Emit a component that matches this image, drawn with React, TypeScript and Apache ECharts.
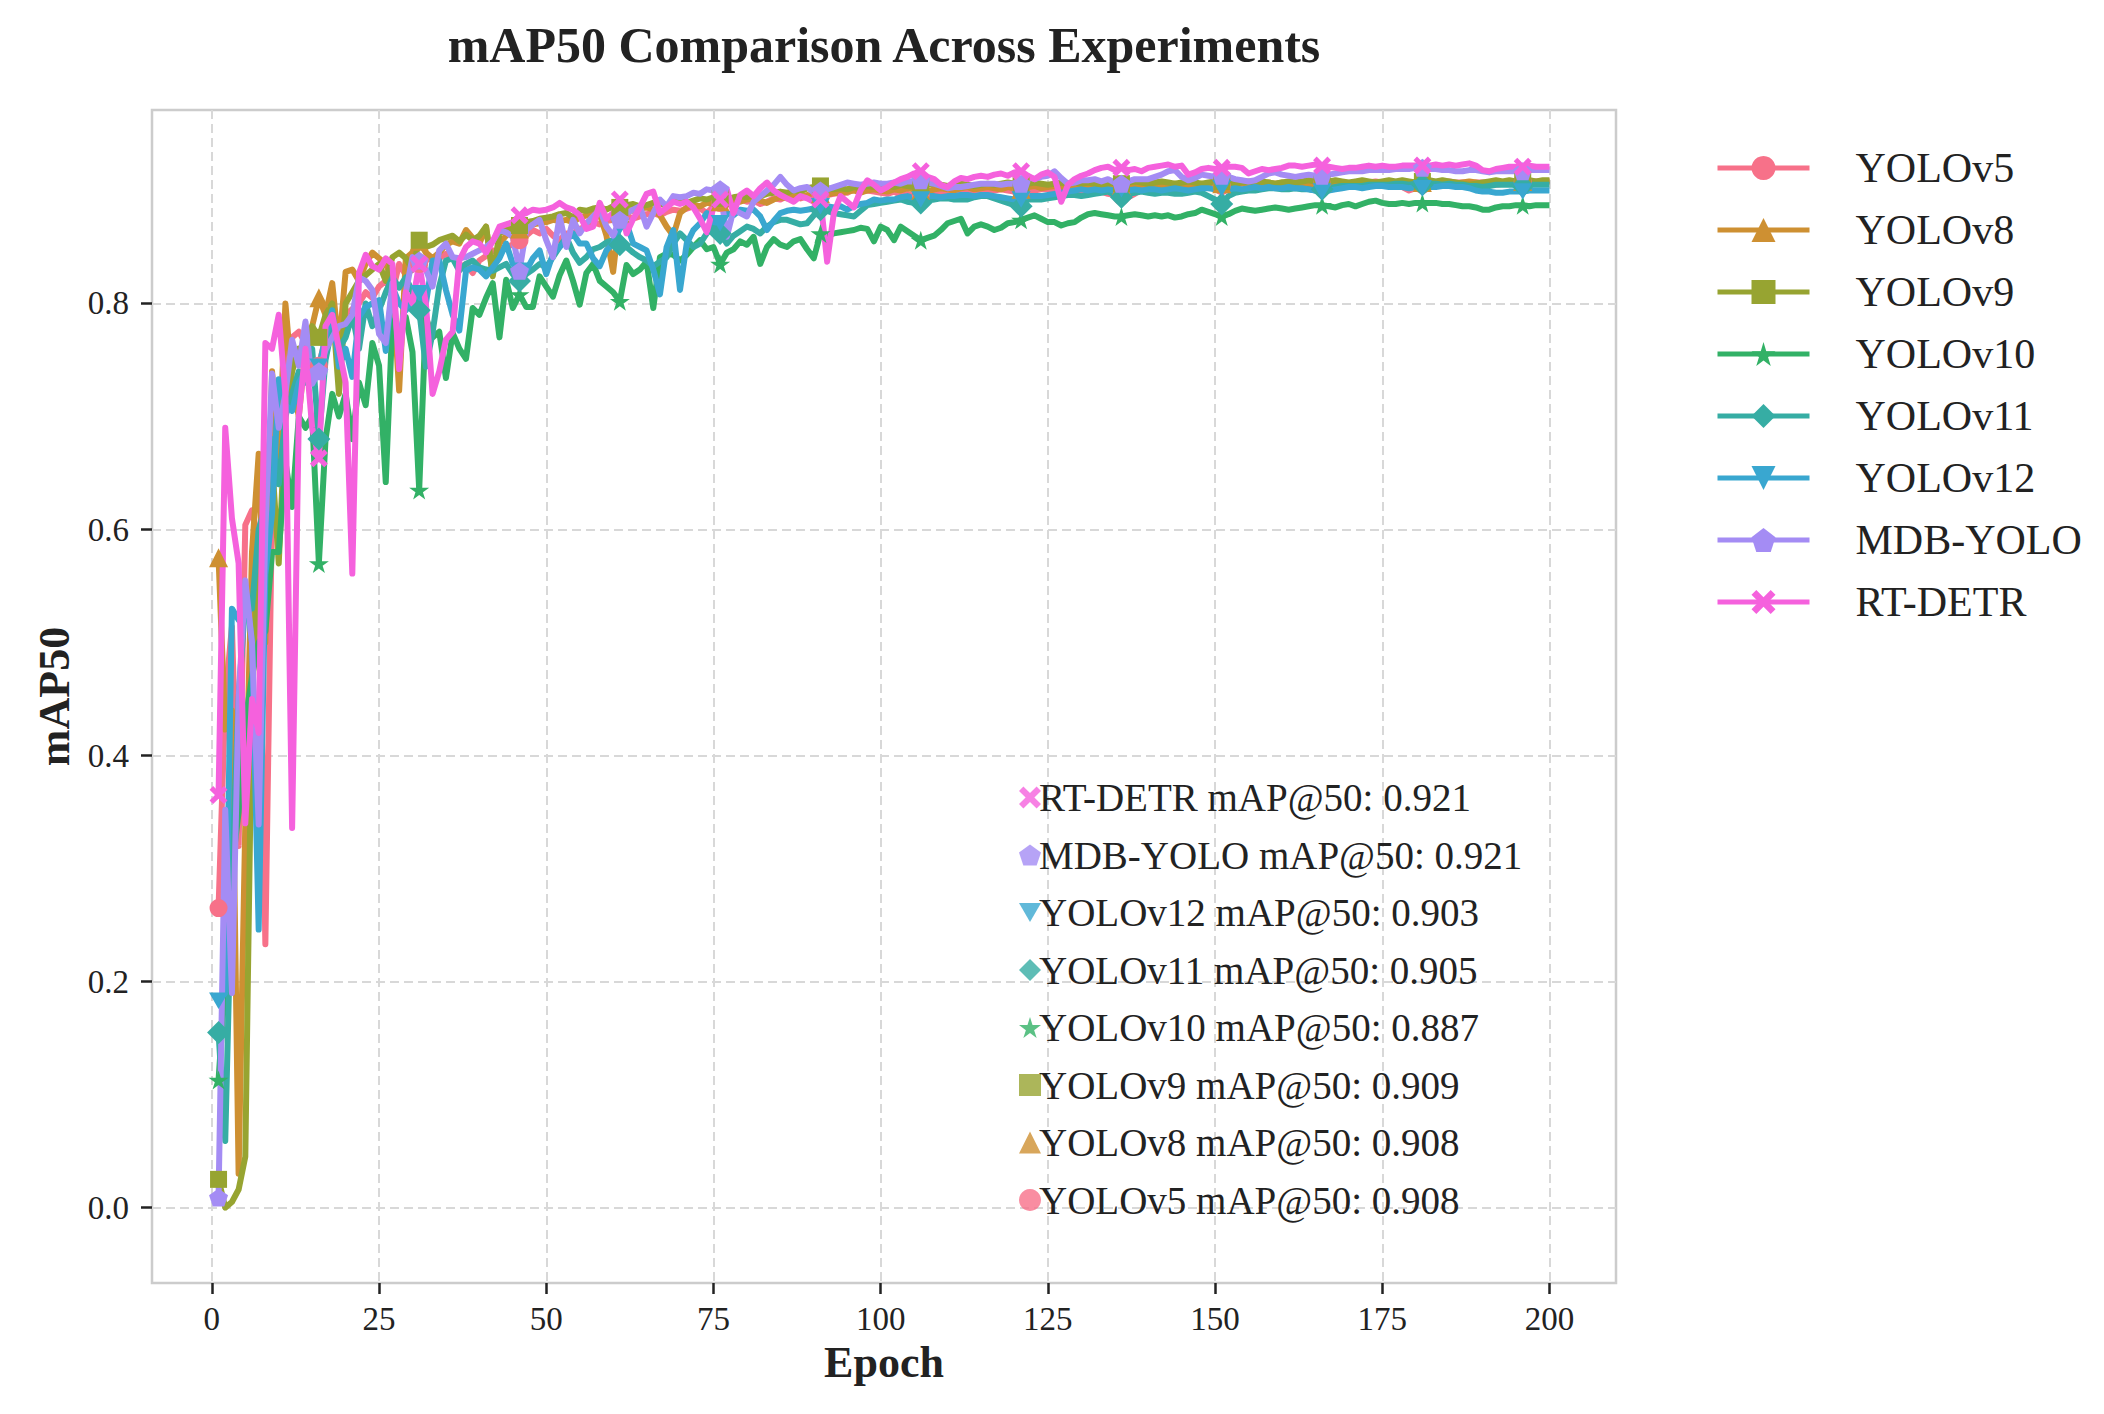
import { useEffect, useRef } from 'react';
import * as echarts from 'echarts';

const FONT = '"Liberation Serif", "Times New Roman", serif';
const INK = '#222222';

const modelNames = ['YOLOv5', 'YOLOv8', 'YOLOv9', 'YOLOv10', 'YOLOv11', 'YOLOv12', 'MDB-YOLO', 'RT-DETR'];
const modelColors = ['#f77189', '#ce9032', '#97a431', '#32b166', '#36ada4', '#39a7d0', '#a48cf4', '#f561dd'];
const finalScores = [0.908, 0.908, 0.909, 0.887, 0.905, 0.903, 0.921, 0.921];
const xTicks = [0, 25, 50, 75, 100, 125, 150, 175, 200];
const yTicks = [0, 0.2, 0.4, 0.6, 0.8];

// mAP50 per epoch (1..200)
const yolov5 = [
  0.265, 0.45, 0.514, 0.32, 0.604, 0.617, 0.59, 0.233, 0.62, 0.714,
  0.74, 0.77, 0.775, 0.765, 0.75, 0.745, 0.77, 0.785, 0.78, 0.79,
  0.795, 0.8, 0.81, 0.805, 0.815, 0.82, 0.81, 0.835, 0.825, 0.83,
  0.835, 0.838, 0.841, 0.84, 0.844, 0.84, 0.832, 0.835, 0.827, 0.838,
  0.842, 0.847, 0.845, 0.85, 0.852, 0.856, 0.86, 0.865, 0.862, 0.866,
  0.86, 0.856, 0.862, 0.862, 0.866, 0.868, 0.872, 0.87, 0.873, 0.874,
  0.876, 0.878, 0.875, 0.877, 0.879, 0.88, 0.878, 0.881, 0.883, 0.882,
  0.884, 0.886, 0.884, 0.88, 0.886, 0.889, 0.887, 0.89, 0.892, 0.89,
  0.891, 0.888, 0.89, 0.893, 0.892, 0.895, 0.894, 0.893, 0.895, 0.894,
  0.895, 0.896, 0.897, 0.899, 0.898, 0.901, 0.899, 0.9, 0.899, 0.898,
  0.897, 0.899, 0.896, 0.897, 0.895, 0.896, 0.898, 0.899, 0.897, 0.898,
  0.899, 0.898, 0.9, 0.899, 0.898, 0.899, 0.9, 0.901, 0.9, 0.899,
  0.899, 0.899, 0.9, 0.901, 0.901, 0.9, 0.899, 0.9, 0.898, 0.899,
  0.9, 0.901, 0.899, 0.897, 0.896, 0.895, 0.894, 0.897, 0.901, 0.902,
  0.903, 0.904, 0.903, 0.902, 0.903, 0.904, 0.903, 0.902, 0.903, 0.904,
  0.904, 0.903, 0.905, 0.904, 0.905, 0.906, 0.905, 0.904, 0.905, 0.906,
  0.905, 0.906, 0.907, 0.906, 0.905, 0.906, 0.907, 0.906, 0.905, 0.906,
  0.907, 0.906, 0.907, 0.908, 0.907, 0.906, 0.905, 0.903, 0.9, 0.902,
  0.905, 0.906, 0.907, 0.907, 0.908, 0.907, 0.907, 0.906, 0.907, 0.907,
  0.906, 0.905, 0.906, 0.907, 0.907, 0.908, 0.907, 0.908, 0.908, 0.908,
];

const yolov8 = [
  0.575, 0.423, 0.44, 0.03, 0.34, 0.58, 0.667, 0.5, 0.74, 0.66,
  0.8, 0.73, 0.7, 0.76, 0.78, 0.805, 0.79, 0.818, 0.76, 0.828,
  0.83, 0.82, 0.835, 0.845, 0.84, 0.835, 0.82, 0.723, 0.84, 0.845,
  0.855, 0.845, 0.84, 0.845, 0.852, 0.855, 0.853, 0.865, 0.858, 0.853,
  0.868, 0.826, 0.853, 0.86, 0.865, 0.866, 0.868, 0.87, 0.871, 0.872,
  0.874, 0.873, 0.874, 0.872, 0.876, 0.878, 0.88, 0.879, 0.86, 0.828,
  0.88, 0.883, 0.882, 0.884, 0.885, 0.883, 0.878, 0.868, 0.86, 0.88,
  0.885, 0.887, 0.886, 0.889, 0.888, 0.89, 0.888, 0.891, 0.89, 0.892,
  0.893, 0.891, 0.889, 0.892, 0.894, 0.893, 0.895, 0.894, 0.896, 0.895,
  0.897, 0.896, 0.898, 0.897, 0.899, 0.9, 0.898, 0.9, 0.901, 0.9,
  0.899, 0.901, 0.9, 0.902, 0.901, 0.9, 0.899, 0.901, 0.902, 0.901,
  0.9, 0.902, 0.903, 0.901, 0.902, 0.903, 0.902, 0.901, 0.903, 0.902,
  0.901, 0.903, 0.904, 0.902, 0.903, 0.904, 0.903, 0.902, 0.904, 0.903,
  0.904, 0.903, 0.905, 0.904, 0.903, 0.904, 0.905, 0.904, 0.905, 0.906,
  0.905, 0.904, 0.905, 0.906, 0.905, 0.904, 0.905, 0.906, 0.905, 0.906,
  0.906, 0.905, 0.906, 0.907, 0.906, 0.905, 0.906, 0.907, 0.906, 0.907,
  0.906, 0.907, 0.906, 0.905, 0.906, 0.907, 0.906, 0.905, 0.904, 0.905,
  0.906, 0.907, 0.906, 0.907, 0.906, 0.905, 0.906, 0.907, 0.906, 0.907,
  0.907, 0.906, 0.907, 0.908, 0.907, 0.906, 0.907, 0.908, 0.907, 0.906,
  0.907, 0.906, 0.907, 0.908, 0.907, 0.908, 0.908, 0.907, 0.908, 0.908,
];

const yolov9 = [
  0.025, 0.0, 0.005, 0.016, 0.045, 0.45, 0.58, 0.62, 0.66, 0.57,
  0.7, 0.74, 0.76, 0.75, 0.78, 0.77, 0.79, 0.8, 0.72, 0.8,
  0.81, 0.82, 0.825, 0.83, 0.835, 0.82, 0.841, 0.845, 0.84, 0.83,
  0.856, 0.85, 0.852, 0.856, 0.858, 0.86, 0.855, 0.861, 0.856, 0.86,
  0.868, 0.824, 0.862, 0.865, 0.867, 0.869, 0.872, 0.873, 0.875, 0.876,
  0.877, 0.879, 0.88, 0.876, 0.883, 0.882, 0.884, 0.885, 0.883, 0.886,
  0.885, 0.887, 0.888, 0.886, 0.887, 0.889, 0.888, 0.887, 0.89, 0.892,
  0.889, 0.891, 0.893, 0.892, 0.894, 0.893, 0.892, 0.894, 0.895, 0.894,
  0.896, 0.895, 0.897, 0.898, 0.899, 0.898, 0.9, 0.899, 0.902, 0.903,
  0.904, 0.902, 0.901, 0.902, 0.901, 0.903, 0.902, 0.904, 0.903, 0.905,
  0.904, 0.903, 0.905, 0.904, 0.903, 0.904, 0.905, 0.906, 0.905, 0.904,
  0.905, 0.906, 0.905, 0.904, 0.905, 0.906, 0.905, 0.906, 0.907, 0.906,
  0.905, 0.906, 0.907, 0.906, 0.905, 0.906, 0.907, 0.906, 0.907, 0.906,
  0.907, 0.906, 0.905, 0.906, 0.907, 0.906, 0.907, 0.908, 0.907, 0.906,
  0.907, 0.908, 0.907, 0.906, 0.907, 0.908, 0.907, 0.906, 0.907, 0.908,
  0.908, 0.907, 0.906, 0.907, 0.908, 0.907, 0.908, 0.907, 0.906, 0.907,
  0.908, 0.907, 0.908, 0.909, 0.908, 0.907, 0.908, 0.909, 0.908, 0.907,
  0.908, 0.909, 0.908, 0.907, 0.908, 0.909, 0.908, 0.909, 0.908, 0.907,
  0.908, 0.909, 0.908, 0.909, 0.908, 0.907, 0.906, 0.905, 0.906, 0.907,
  0.908, 0.909, 0.908, 0.909, 0.908, 0.909, 0.909, 0.908, 0.909, 0.909,
];

const yolov10 = [
  0.113, 0.2, 0.3, 0.35, 0.43, 0.47, 0.5, 0.51, 0.58, 0.58,
  0.66, 0.62, 0.7, 0.69, 0.7, 0.57, 0.68, 0.72, 0.7, 0.72,
  0.68, 0.73, 0.71, 0.765, 0.745, 0.642, 0.785, 0.774, 0.788, 0.757,
  0.635, 0.788, 0.77, 0.775, 0.734, 0.774, 0.76, 0.751, 0.796, 0.79,
  0.805, 0.818, 0.77, 0.821, 0.796, 0.808, 0.797, 0.797, 0.824, 0.815,
  0.806, 0.825, 0.838, 0.82, 0.799, 0.827, 0.835, 0.82, 0.815, 0.81,
  0.802, 0.834, 0.826, 0.83, 0.837, 0.796, 0.841, 0.844, 0.843, 0.838,
  0.843, 0.85, 0.856, 0.848, 0.85, 0.835, 0.845, 0.848, 0.855, 0.852,
  0.859, 0.835, 0.85, 0.857, 0.852, 0.85, 0.855, 0.857, 0.848, 0.84,
  0.862, 0.86, 0.862, 0.863, 0.864, 0.865, 0.867, 0.866, 0.855, 0.868,
  0.865, 0.856, 0.868, 0.864, 0.86, 0.856, 0.858, 0.86, 0.865, 0.871,
  0.873, 0.875, 0.862, 0.868, 0.87, 0.868, 0.865, 0.867, 0.871, 0.872,
  0.874, 0.876, 0.878, 0.875, 0.872, 0.872, 0.869, 0.871, 0.872, 0.876,
  0.879, 0.88, 0.879, 0.878, 0.877, 0.877, 0.878, 0.879, 0.878, 0.877,
  0.878, 0.877, 0.878, 0.876, 0.877, 0.879, 0.88, 0.883, 0.881, 0.879,
  0.877, 0.879, 0.882, 0.884, 0.883, 0.882, 0.883, 0.884, 0.885, 0.884,
  0.883, 0.884, 0.885, 0.886, 0.887, 0.887, 0.886, 0.885, 0.887, 0.888,
  0.886, 0.888, 0.89, 0.891, 0.889, 0.888, 0.888, 0.889, 0.888, 0.889,
  0.889, 0.889, 0.889, 0.888, 0.888, 0.887, 0.886, 0.886, 0.885, 0.883,
  0.883, 0.885, 0.886, 0.886, 0.887, 0.887, 0.886, 0.887, 0.887, 0.887,
];

const yolov11 = [
  0.155, 0.059, 0.3, 0.45, 0.538, 0.53, 0.6, 0.62, 0.68, 0.64,
  0.7, 0.72, 0.74, 0.73, 0.76, 0.68, 0.75, 0.78, 0.76, 0.77,
  0.79, 0.76, 0.8, 0.78, 0.794, 0.81, 0.823, 0.814, 0.823, 0.81,
  0.794, 0.744, 0.774, 0.815, 0.838, 0.84, 0.829, 0.835, 0.838, 0.832,
  0.83, 0.829, 0.832, 0.835, 0.826, 0.82, 0.826, 0.83, 0.835, 0.832,
  0.841, 0.85, 0.859, 0.845, 0.836, 0.841, 0.848, 0.85, 0.854, 0.856,
  0.852, 0.85, 0.845, 0.841, 0.838, 0.833, 0.837, 0.841, 0.853, 0.862,
  0.856, 0.85, 0.853, 0.862, 0.87, 0.862, 0.853, 0.86, 0.864, 0.868,
  0.866, 0.862, 0.868, 0.872, 0.874, 0.874, 0.872, 0.87, 0.871, 0.878,
  0.883, 0.882, 0.88, 0.879, 0.878, 0.877, 0.882, 0.887, 0.888, 0.889,
  0.89, 0.891, 0.892, 0.89, 0.889, 0.889, 0.891, 0.892, 0.893, 0.893,
  0.892, 0.892, 0.892, 0.894, 0.895, 0.895, 0.893, 0.891, 0.889, 0.887,
  0.886, 0.892, 0.892, 0.892, 0.893, 0.894, 0.895, 0.896, 0.896, 0.895,
  0.896, 0.897, 0.898, 0.899, 0.896, 0.894, 0.897, 0.898, 0.899, 0.898,
  0.897, 0.898, 0.898, 0.897, 0.897, 0.898, 0.899, 0.898, 0.895, 0.892,
  0.888, 0.895, 0.898, 0.899, 0.9, 0.9, 0.901, 0.902, 0.902, 0.901,
  0.901, 0.902, 0.901, 0.901, 0.9, 0.901, 0.902, 0.903, 0.904, 0.904,
  0.904, 0.904, 0.905, 0.905, 0.905, 0.905, 0.906, 0.906, 0.905, 0.906,
  0.905, 0.906, 0.906, 0.905, 0.906, 0.905, 0.905, 0.904, 0.904, 0.903,
  0.904, 0.905, 0.905, 0.905, 0.905, 0.904, 0.905, 0.905, 0.905, 0.905,
];

const yolov12 = [
  0.183, 0.19, 0.53, 0.52, 0.55, 0.5, 0.246, 0.56, 0.614, 0.733,
  0.71, 0.705, 0.73, 0.74, 0.747, 0.744, 0.77, 0.794, 0.744, 0.76,
  0.735, 0.788, 0.797, 0.8, 0.803, 0.758, 0.815, 0.8, 0.794, 0.803,
  0.809, 0.8, 0.838, 0.838, 0.812, 0.79, 0.776, 0.829, 0.832, 0.83,
  0.824, 0.832, 0.84, 0.853, 0.835, 0.829, 0.829, 0.84, 0.847, 0.826,
  0.844, 0.85, 0.856, 0.862, 0.853, 0.853, 0.84, 0.833, 0.847, 0.853,
  0.868, 0.871, 0.853, 0.85, 0.847, 0.83, 0.808, 0.85, 0.865, 0.812,
  0.853, 0.865, 0.871, 0.88, 0.872, 0.871, 0.88, 0.878, 0.883, 0.882,
  0.883, 0.877, 0.865, 0.873, 0.88, 0.882, 0.883, 0.882, 0.883, 0.884,
  0.886, 0.886, 0.885, 0.886, 0.883, 0.886, 0.888, 0.889, 0.892, 0.891,
  0.892, 0.892, 0.894, 0.895, 0.893, 0.892, 0.895, 0.895, 0.894, 0.895,
  0.895, 0.896, 0.896, 0.895, 0.896, 0.896, 0.895, 0.894, 0.893, 0.892,
  0.892, 0.895, 0.895, 0.895, 0.896, 0.897, 0.898, 0.899, 0.9, 0.901,
  0.9, 0.901, 0.9, 0.901, 0.9, 0.901, 0.9, 0.901, 0.9, 0.901,
  0.901, 0.9, 0.901, 0.902, 0.901, 0.9, 0.901, 0.902, 0.902, 0.901,
  0.902, 0.901, 0.902, 0.901, 0.902, 0.903, 0.902, 0.903, 0.902, 0.902,
  0.903, 0.902, 0.902, 0.901, 0.9, 0.899, 0.9, 0.901, 0.902, 0.903,
  0.903, 0.902, 0.903, 0.904, 0.904, 0.903, 0.903, 0.903, 0.902, 0.903,
  0.902, 0.903, 0.903, 0.904, 0.904, 0.903, 0.903, 0.902, 0.9, 0.899,
  0.899, 0.898, 0.898, 0.899, 0.899, 0.899, 0.9, 0.9, 0.9, 0.9,
];

const mdbYolo = [
  0.009, 0.352, 0.19, 0.45, 0.555, 0.5, 0.339, 0.6, 0.738, 0.69,
  0.72, 0.768, 0.745, 0.784, 0.729, 0.74, 0.759, 0.77, 0.78, 0.782,
  0.79, 0.823, 0.82, 0.812, 0.773, 0.765, 0.818, 0.756, 0.81, 0.841,
  0.838, 0.83, 0.815, 0.847, 0.853, 0.841, 0.84, 0.841, 0.844, 0.847,
  0.85, 0.855, 0.865, 0.863, 0.859, 0.829, 0.865, 0.87, 0.874, 0.856,
  0.841, 0.877, 0.85, 0.874, 0.862, 0.871, 0.877, 0.883, 0.868, 0.86,
  0.874, 0.88, 0.883, 0.886, 0.868, 0.88, 0.892, 0.886, 0.895, 0.894,
  0.895, 0.898, 0.897, 0.901, 0.9, 0.901, 0.859, 0.883, 0.88, 0.877,
  0.89, 0.895, 0.9, 0.905, 0.912, 0.905, 0.9, 0.902, 0.903, 0.898,
  0.9, 0.901, 0.903, 0.905, 0.907, 0.906, 0.905, 0.906, 0.907, 0.906,
  0.906, 0.907, 0.906, 0.908, 0.908, 0.909, 0.907, 0.906, 0.904, 0.902,
  0.903, 0.903, 0.904, 0.905, 0.906, 0.906, 0.906, 0.905, 0.906, 0.906,
  0.906, 0.912, 0.91, 0.912, 0.913, 0.917, 0.911, 0.906, 0.907, 0.909,
  0.909, 0.91, 0.908, 0.91, 0.907, 0.906, 0.908, 0.91, 0.91, 0.91,
  0.912, 0.914, 0.917, 0.918, 0.912, 0.909, 0.911, 0.914, 0.913, 0.912,
  0.913, 0.912, 0.91, 0.909, 0.908, 0.909, 0.912, 0.915, 0.916, 0.914,
  0.913, 0.912, 0.913, 0.914, 0.913, 0.913, 0.914, 0.915, 0.916, 0.917,
  0.917, 0.917, 0.918, 0.918, 0.918, 0.918, 0.919, 0.919, 0.919, 0.92,
  0.92, 0.919, 0.919, 0.918, 0.918, 0.917, 0.917, 0.918, 0.918, 0.917,
  0.916, 0.917, 0.917, 0.917, 0.917, 0.917, 0.918, 0.918, 0.918, 0.918,
];

const rtDetr = [
  0.365, 0.69, 0.61, 0.57, 0.34, 0.45, 0.42, 0.765, 0.76, 0.79,
  0.72, 0.336, 0.7, 0.76, 0.69, 0.663, 0.78, 0.79, 0.76, 0.73,
  0.561, 0.827, 0.843, 0.833, 0.83, 0.84, 0.835, 0.742, 0.81, 0.8,
  0.835, 0.8, 0.72, 0.74, 0.768, 0.775, 0.838, 0.85, 0.855, 0.853,
  0.845, 0.855, 0.868, 0.87, 0.872, 0.878, 0.88, 0.883, 0.882, 0.883,
  0.885, 0.889, 0.885, 0.883, 0.878, 0.866, 0.868, 0.889, 0.875, 0.88,
  0.892, 0.862, 0.875, 0.885, 0.897, 0.899, 0.88, 0.885, 0.89, 0.888,
  0.89, 0.885, 0.875, 0.863, 0.885, 0.892, 0.901, 0.88, 0.896, 0.9,
  0.895, 0.902, 0.907, 0.9, 0.896, 0.893, 0.89, 0.895, 0.893, 0.89,
  0.892, 0.837, 0.88, 0.895, 0.89, 0.885, 0.9, 0.909, 0.905, 0.9,
  0.903, 0.907, 0.91, 0.912, 0.915, 0.917, 0.912, 0.91, 0.905, 0.903,
  0.908, 0.911, 0.91, 0.912, 0.913, 0.912, 0.914, 0.915, 0.913, 0.916,
  0.917, 0.913, 0.91, 0.914, 0.916, 0.912, 0.89, 0.905, 0.91, 0.913,
  0.915, 0.918, 0.92, 0.921, 0.918, 0.92, 0.918, 0.919, 0.917, 0.92,
  0.921, 0.922, 0.923, 0.921, 0.922, 0.914, 0.916, 0.919, 0.92, 0.919,
  0.92, 0.921, 0.921, 0.92, 0.915, 0.917, 0.919, 0.918, 0.919, 0.92,
  0.922, 0.922, 0.921, 0.922, 0.923, 0.922, 0.921, 0.92, 0.919, 0.92,
  0.92, 0.921, 0.922, 0.921, 0.922, 0.921, 0.921, 0.922, 0.922, 0.922,
  0.922, 0.922, 0.923, 0.922, 0.923, 0.922, 0.923, 0.924, 0.922, 0.918,
  0.917, 0.919, 0.92, 0.921, 0.921, 0.921, 0.922, 0.921, 0.921, 0.921,
];

const seriesValues = [yolov5, yolov8, yolov9, yolov10, yolov11, yolov12, mdbYolo, rtDetr];

const STAR = 'path://M50,0 L61,35 L98,35 L68,57 L79,91 L50,70 L21,91 L32,57 L2,35 L39,35 Z';
const PENTAGON = 'path://M50,0 L98,35 L79,91 L21,91 L2,35 Z';
const TRI_DOWN = 'path://M0,0 L100,0 L50,87 Z';
const XMARK = 'path://M20,0 L50,30 L80,0 L100,20 L70,50 L100,80 L80,100 L50,70 L20,100 L0,80 L30,50 L0,20 Z';
const markerSymbols = ['circle', 'triangle', 'rect', STAR, 'diamond', TRI_DOWN, PENTAGON, XMARK];
const markerSizes = [18, 19, 17, 20, 23, 19, 19, 18];

const MARK_EVERY = 15;

export default function App() {
  const chartRef = useRef<HTMLDivElement>(null);

  useEffect(() => {
    if (!chartRef.current) return;
    document.body.style.margin = '0';

    const chart = echarts.init(chartRef.current, null, { renderer: 'svg' });

    const scoreLabels = modelNames.map((n, i) => `${n} mAP@50: ${finalScores[i].toFixed(3)}`);

    const lineSeries = modelNames.map((name, s) => ({
      name,
      type: 'line',
      data: seriesValues[s].map((v, i) =>
        i % MARK_EVERY === 0 ? [i + 1, v] : { value: [i + 1, v], symbol: 'none' },
      ),
      symbol: markerSymbols[s],
      symbolSize: markerSizes[s],
      symbolKeepAspect: true,
      showSymbol: true,
      showAllSymbol: true,
      lineStyle: { width: 6, color: modelColors[s], join: 'round' },
      itemStyle: { color: modelColors[s] },
      emphasis: { disabled: true },
    }));

    // empty series only used for the score list in the lower right
    const scoreSeries = modelNames.map((_, s) => ({
      name: scoreLabels[s],
      type: 'scatter',
      data: [],
      symbol: markerSymbols[s],
      symbolKeepAspect: true,
      itemStyle: { color: modelColors[s] },
    }));

    const tickLabel = { fontFamily: FONT, fontSize: 33, color: INK };
    const axisName = { fontFamily: FONT, fontSize: 44, fontWeight: 'bold', color: INK, verticalAlign: 'middle' };
    const gridLine = { show: true, lineStyle: { color: '#d8d8d8', width: 2, type: [9, 5] } };

    const option: any = {
      animation: false,
      backgroundColor: '#ffffff',
      graphic: [
        {
          type: 'text',
          x: 884,
          y: 45,
          style: {
            text: 'mAP50 Comparison Across Experiments',
            fontFamily: FONT,
            fontSize: 50,
            fontWeight: 'bold',
            fill: INK,
            textAlign: 'center',
            textVerticalAlign: 'middle',
          },
        },
      ],
      grid: {
        left: 152,
        top: 110,
        width: 1464,
        height: 1173,
        show: true,
        borderColor: '#cccccc',
        borderWidth: 2.5,
        containLabel: false,
        outerBoundsMode: 'none',
      },
      xAxis: {
        type: 'value',
        min: -8.95,
        max: 209.95,
        axisLine: { show: false, onZero: false },
        axisTick: { show: true, customValues: xTicks, length: 11, lineStyle: { color: INK, width: 2.5 } },
        axisLabel: { customValues: xTicks, margin: 19, ...tickLabel },
        splitLine: gridLine,
        name: 'Epoch',
        nameLocation: 'middle',
        nameGap: 79,
        nameTextStyle: axisName,
      },
      yAxis: {
        type: 'value',
        min: -0.0667,
        max: 0.9712,
        axisLine: { show: false, onZero: false },
        axisTick: { show: true, customValues: yTicks, length: 11, lineStyle: { color: INK, width: 2.5 } },
        axisLabel: { customValues: yTicks, margin: 23, formatter: (v: number) => v.toFixed(1), ...tickLabel },
        splitLine: gridLine,
        name: 'mAP50',
        nameLocation: 'middle',
        nameGap: 92,
        nameTextStyle: axisName,
      },
      legend: [
        {
          data: modelNames,
          orient: 'vertical',
          left: 1710,
          top: 142,
          itemWidth: 92,
          itemHeight: 30,
          itemGap: 20,
          selectedMode: false,
          lineStyle: { width: 5 },
          textStyle: { fontFamily: FONT, fontSize: 42, color: INK, padding: [0, 0, 0, 41] },
        },
        {
          data: [...scoreLabels].reverse(),
          orient: 'vertical',
          left: 1014,
          top: 773,
          itemWidth: 22,
          itemHeight: 22,
          itemGap: 18.5,
          selectedMode: false,
          textStyle: { fontFamily: FONT, fontSize: 39, color: INK, padding: [0, 0, 0, -7] },
        },
      ],
      series: [...lineSeries, ...scoreSeries],
    };

    chart.setOption(option);

    const handleResize = () => chart.resize();
    window.addEventListener('resize', handleResize);
    return () => {
      window.removeEventListener('resize', handleResize);
      chart.dispose();
    };
  }, []);

  return <div ref={chartRef} style={{ width: 2104, height: 1414 }} />;
}
